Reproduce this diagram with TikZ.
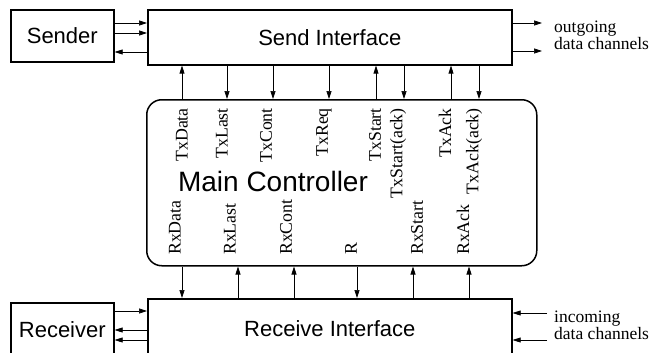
\documentclass[tikz,border=0pt]{standalone}
\usepackage{fontspec}
\setmainfont{Liberation Serif}
\setsansfont{Liberation Sans}
\usetikzlibrary{arrows.meta}
\begin{document}
\begin{tikzpicture}[x=1pt,y=-1pt,
  box/.style={draw, line width=1.6pt, anchor=north west, inner sep=0pt,
    font=\sffamily\fontsize{22}{24}\selectfont},
  arr/.style={line width=0.7pt, -{Triangle[length=8pt,width=5pt]}},
  lbl/.style={rotate=90, inner sep=0pt, font=\rmfamily\fontsize{17.8}{18}\selectfont},
  note/.style={anchor=base west, align=left, inner sep=0pt,
    font=\rmfamily\fontsize{17.5}{14}\selectfont}]
\useasboundingbox (0,0) rectangle (656,353);
\clip (0,0) rectangle (656,353);

% boxes
\node[box, minimum width=103pt, minimum height=52pt] (sender) at (10,9) {Sender};
\node[box, minimum width=364pt, minimum height=55pt] (send) at (147,9) {Send Interface};
\node[box, minimum width=103pt, minimum height=53pt] (receiver) at (10,302) {Receiver};
\node[box, minimum width=364pt, minimum height=59pt] (recv) at (147,298) {Receive Interface};
\node[draw, line width=1.5pt, rounded corners=15pt, anchor=north west,
  minimum width=390pt, minimum height=166pt, inner sep=0pt] (ctrl) at (146,99) {};
\node[font=\sffamily\fontsize{28}{30}\selectfont, inner sep=0pt] (mc) at (273,181.5) {Main Controller};

% sender <-> send interface
\draw[arr] (sender.east |- 0,23) -- (send.west |- 0,23);
\draw[arr] (sender.east |- 0,33) -- (send.west |- 0,33);
\draw[arr] (send.west |- 0,52) -- (sender.east |- 0,52);

% outgoing
\coordinate (out1) at (542,23);
\coordinate (out2) at (542,51);
\draw[arr] (send.east |- out1) -- (out1);
\draw[arr] (send.east |- out2) -- (out2);
\node[note] (outtxt) at (554,49) {outgoing\\data channels};

% receiver <-> receive interface
\draw[arr] (receiver.east |- 0,311) -- (recv.west |- 0,311);
\draw[arr] (recv.west |- 0,330) -- (receiver.east |- 0,330);
\draw[arr] (recv.west |- 0,340) -- (receiver.east |- 0,340);

% incoming
\coordinate (in1) at (547,313);
\coordinate (in2) at (547,340);
\draw[arr] (in1) -- (recv.east |- in1);
\draw[arr] (in2) -- (recv.east |- in2);
\node[note] (intxt) at (554,339) {incoming\\data channels};

% top arrows
\foreach \x in {182,376,451}
  \draw[arr] (ctrl.north -| \x,0) -- (send.south -| \x,0);
\foreach \x in {227,273,329,404,479}
  \draw[arr] (send.south -| \x,0) -- (ctrl.north -| \x,0);

% bottom arrows
\foreach \x in {182,357}
  \draw[arr] (ctrl.south -| \x,0) -- (recv.north -| \x,0);
\foreach \x in {238,294,413,469}
  \draw[arr] (recv.north -| \x,0) -- (ctrl.south -| \x,0);

% top labels
\foreach \x/\t [count=\i] in {182/TxData, 222/TxLast, 266/TxCont, 324/TxReq,
    375/TxStart, 398/TxStart(ack), 445/TxAck, 474/TxAck(ack)}
  \node[lbl, anchor=east] (tl\i) at (\x,108) {\t};

% bottom labels
\foreach \x/\t [count=\i] in {175/RxData, 230/RxLast, 286/RxCont, 351/R,
    417/RxStart, 463/RxAck}
  \node[lbl, anchor=west] (bl\i) at (\x,255) {\t};
\end{tikzpicture}
\end{document}
